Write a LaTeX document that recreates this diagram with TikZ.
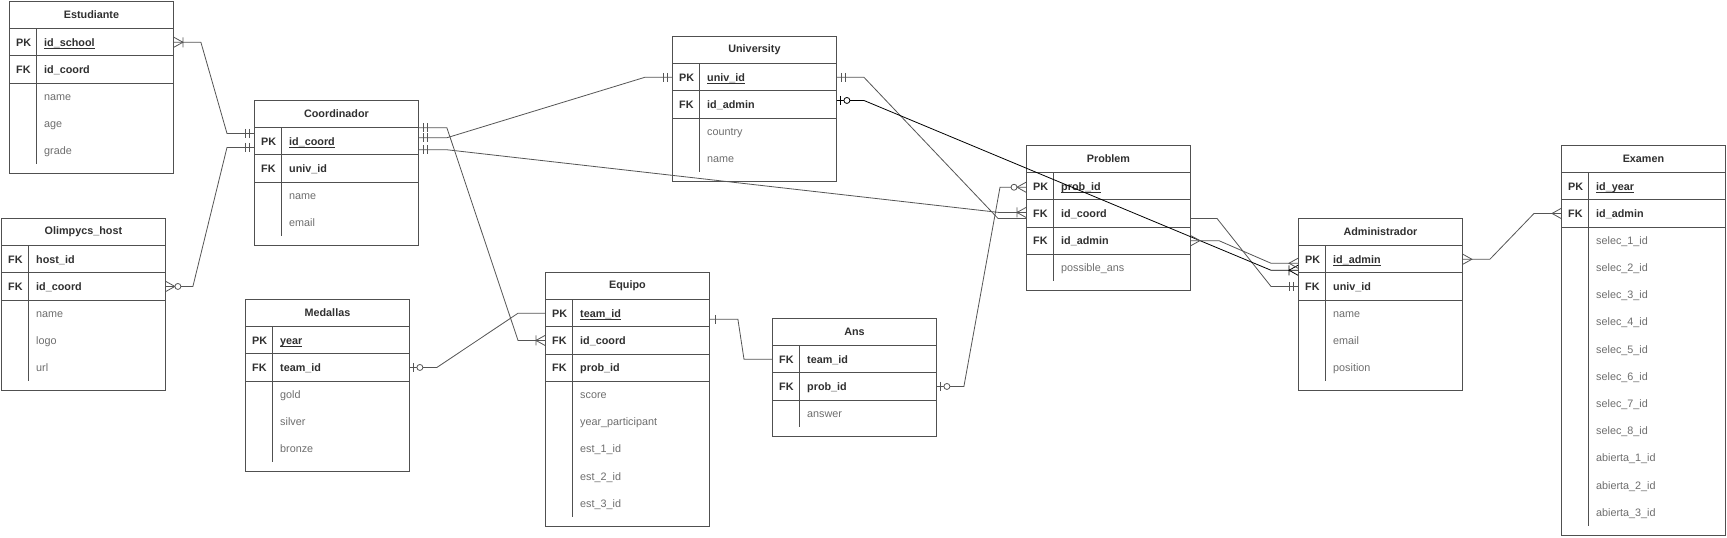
\documentclass[tikz,border=0pt]{standalone}
\usepackage{fontspec}
\setmainfont{Liberation Sans}
\usetikzlibrary{calc}
\definecolor{tcol}{HTML}{505050}
\definecolor{keycol}{HTML}{303030}
\definecolor{attrcol}{HTML}{6E6E6E}
\definecolor{lcol}{HTML}{555555}
\tikzset{
  tline/.style={draw=tcol,line width=0.9pt},
  hdr/.style={draw=tcol,line width=0.9pt,minimum width=164,minimum height=27.2,inner sep=0pt,
    font=\fontsize{10.8}{13}\selectfont\bfseries,text=keycol},
  keyrow/.style={draw=tcol,line width=0.9pt,minimum width=164,minimum height=27.2,inner sep=0pt},
  attrrow/.style={minimum width=164,minimum height=27.2,inner sep=0pt},
  keytxt/.style={anchor=base west,inner sep=0pt,font=\fontsize{10.8}{13}\selectfont\bfseries,text=keycol},
  attrtxt/.style={anchor=base west,inner sep=0pt,font=\fontsize{10.8}{13}\selectfont,text=attrcol},
  conn/.style={draw=lcol,line width=0.8pt},
  connblk/.style={draw=black,line width=0.8pt},
}
\newcommand\ulin[1]{\leavevmode\setbox0\hbox{#1}\rlap{\rule[-2pt]{\wd0}{0.6pt}}\box0}
% #1 id, #2 x, #3 y, #4 title, #5 nkeys, #6 keys, #7 nattrs, #8 attrs
\newcommand\ertable[8]{%
  \pgfmathsetmacro\tbot{#3+27.2*(1+#5+#7)}%
  \draw[tline,fill=white] (#2,#3) rectangle (#2+164,\tbot+9.5);
  \node[hdr,anchor=north west] (#1) at (#2,#3) {#4};
  \foreach[count=\i] \ka/\kb in {#6}{%
    \node[keyrow,anchor=north west] (#1-k\i) at (#2,#3+27.2*\i) {};
    \node[keytxt] at ($(#1-k\i.west)+(7,3.9)$) {\ka};
    \node[keytxt] at ($(#1-k\i.west)+(35,3.9)$) {\kb};
  }
  \foreach[count=\i] \atn in {#8}{%
    \node[attrrow,anchor=north west] (#1-a\i) at (#2,#3+27.2*\i+27.2*#5) {};
    \node[attrtxt] at ($(#1-a\i.west)+(35,3.9)$) {\atn};
  }
  \draw[tline] (#2+27,#3+27.2) -- (#2+27,\tbot);
}
% markers: #2 coordinate name, #3 direction (1 = line leaves to the right)
\newcommand\mkMandOne[3][conn]{\draw[#1,shift={(#2)},xscale=#3] (4.5,-4.5)--(4.5,4.5) (8.5,-4.5)--(8.5,4.5);}
\newcommand\mkOne[3][conn]{\draw[#1,shift={(#2)},xscale=#3] (5,-4.5)--(5,4.5);}
\newcommand\mkZeroOne[3][conn]{\draw[#1,shift={(#2)},xscale=#3] (3.5,-4.5)--(3.5,4.5);
  \draw[#1,fill=white,shift={(#2)},xscale=#3] (10,0) circle (3);}
\newcommand\mkMany[3][conn]{\draw[#1,shift={(#2)},xscale=#3] (0,-5)--(9,0)--(0,5);}
\newcommand\mkOneMany[3][conn]{\draw[#1,shift={(#2)},xscale=#3] (0,-5)--(9,0)--(0,5) (9,-5)--(9,5);}
\newcommand\mkZeroMany[3][conn]{\draw[#1,shift={(#2)},xscale=#3] (0,-5)--(9,0)--(0,5);
  \draw[#1,fill=white,shift={(#2)},xscale=#3] (12,0) circle (3);}

\begin{document}
\begin{tikzpicture}[x=1pt,y=-1pt]
\fill[white] (0,0) rectangle (1727,538);
\useasboundingbox (0,0) rectangle (1727,538);

\ertable{est}{9}{1}{Estudiante}{2}{PK/\ulin{id\_school},FK/id\_coord}{3}{name,age,grade}
\ertable{oli}{1}{218}{Olimpycs\_host}{2}{FK/host\_id,FK/id\_coord}{3}{name,logo,url}
\ertable{coo}{254}{100}{Coordinador}{2}{PK/\ulin{id\_coord},FK/univ\_id}{2}{name,email}
\ertable{med}{245}{299}{Medallas}{2}{PK/\ulin{year},FK/team\_id}{3}{gold,silver,bronze}
\ertable{uni}{672}{36}{University}{2}{PK/\ulin{univ\_id},FK/id\_admin}{2}{country,name}
\ertable{equ}{545}{272}{Equipo}{3}{PK/\ulin{team\_id},FK/id\_coord,FK/prob\_id}{5}{score,year\_participant,est\_1\_id,est\_2\_id,est\_3\_id}
\ertable{ans}{772}{318}{Ans}{2}{FK/team\_id,FK/prob\_id}{1}{answer}
\ertable{adm}{1298}{218}{Administrador}{2}{PK/\ulin{id\_admin},FK/univ\_id}{3}{name,email,position}
\ertable{exa}{1561}{145}{Examen}{2}{PK/\ulin{id\_year},FK/id\_admin}{11}{selec\_1\_id,selec\_2\_id,selec\_3\_id,selec\_4\_id,selec\_5\_id,selec\_6\_id,selec\_7\_id,selec\_8\_id,abierta\_1\_id,abierta\_2\_id,abierta\_3\_id}

% University univ_id -> Administrador univ_id (runs behind Problem)
\coordinate (e6a) at (uni-k1.east);
\coordinate (e6b) at (adm-k2.west);
\draw[conn] (e6a) -- ++(27,0) -- ($(adm-k2.west)+(-300,-68)$) -- ($(adm-k2.west)+(-81,-68)$) -- ($(e6b)+(-27,0)$) -- (e6b);
\mkMandOne{e6a}{1}
\mkMandOne{e6b}{-1}

\ertable{pro}{1026}{145}{Problem}{3}{PK/\ulin{prob\_id},FK/id\_coord,FK/id\_admin}{1}{possible\_ans}

% endpoints
\coordinate (e1a) at (est-k1.east);
\coordinate (e1b) at ($(coo-k1.west)+(0,-7.8)$);
\coordinate (e2a) at (oli-k2.east);
\coordinate (e2b) at ($(coo-k1.west)+(0,6.2)$);
\coordinate (e3a) at ($(coo-k1.east)+(0,-13.5)$);
\coordinate (e3b) at (equ-k2.west);
\coordinate (e4a) at ($(coo-k1.east)+(0,-3.5)$);
\coordinate (e4b) at (uni-k1.west);
\coordinate (e5a) at ($(coo-k1.east)+(0,8.5)$);
\coordinate (e5b) at ($(pro-k2.west)+(0,-1)$);
\coordinate (e7a) at ($(uni-k2.east)+(0,-4)$);
\coordinate (e7b) at ($(adm-k1.west)+(0,11)$);
\coordinate (e8a) at (pro-k3.east);
\coordinate (e8b) at ($(adm-k1.west)+(0,4)$);
\coordinate (e9a) at (adm-k1.east);
\coordinate (e9b) at (exa-k2.west);
\coordinate (e10a) at (ans-k2.east);
\coordinate (e10b) at ($(pro-k1.west)+(0,1)$);
\coordinate (e11a) at ($(equ-k1.east)+(0,6)$);
\coordinate (e11b) at (ans-k1.west);
\coordinate (e12a) at (med-k2.east);
\coordinate (e12b) at (equ-k1.west);

\draw[conn] (e1a) -- ++(27,0) -- ($(e1b)+(-27,0)$) -- (e1b);
\mkOneMany{e1a}{1} \mkMandOne{e1b}{-1}
\draw[conn] (e2a) -- ++(27,0) -- ($(e2b)+(-27,0)$) -- (e2b);
\mkZeroMany{e2a}{1} \mkMandOne{e2b}{-1}
\draw[conn] (e3a) -- ++(28,0) -- ($(e3b)+(-27,0)$) -- (e3b);
\mkMandOne{e3a}{1} \mkOneMany{e3b}{-1}
\draw[conn] (e4a) -- ++(28,0) -- ($(e4b)+(-27,0)$) -- (e4b);
\mkMandOne{e4a}{1} \mkMandOne{e4b}{-1}
\draw[conn] (e5a) -- ++(28,0) -- ($(e5b)+(-27,0)$) -- (e5b);
\mkMandOne{e5a}{1} \mkOneMany{e5b}{-1}
\draw[connblk] (e7a) -- ++(27,0) -- ($(e7b)+(-27,0)$) -- (e7b);
\mkZeroOne[connblk]{e7a}{1} \mkOneMany[connblk]{e7b}{-1}
\draw[conn] (e8a) -- ++(28,0) -- ($(e8b)+(-27,0)$) -- (e8b);
\mkMany{e8a}{1} \mkMany{e8b}{-1}
\draw[conn] (e9a) -- ++(27,0) -- ($(e9b)+(-27,0)$) -- (e9b);
\mkMany{e9a}{1} \mkMany{e9b}{-1}
\draw[conn] (e10a) -- ++(27,0) -- ($(e10b)+(-26,0)$) -- (e10b);
\mkZeroOne{e10a}{1} \mkZeroMany{e10b}{-1}
\draw[conn] (e11a) -- ++(28,0) -- ($(e11b)+(-28,0)$) -- (e11b);
\mkOne{e11a}{1}
\draw[conn] (e12a) -- ++(27,0) -- ($(e12b)+(-27,0)$) -- (e12b);
\mkZeroOne{e12a}{1}
\end{tikzpicture}
\end{document}
